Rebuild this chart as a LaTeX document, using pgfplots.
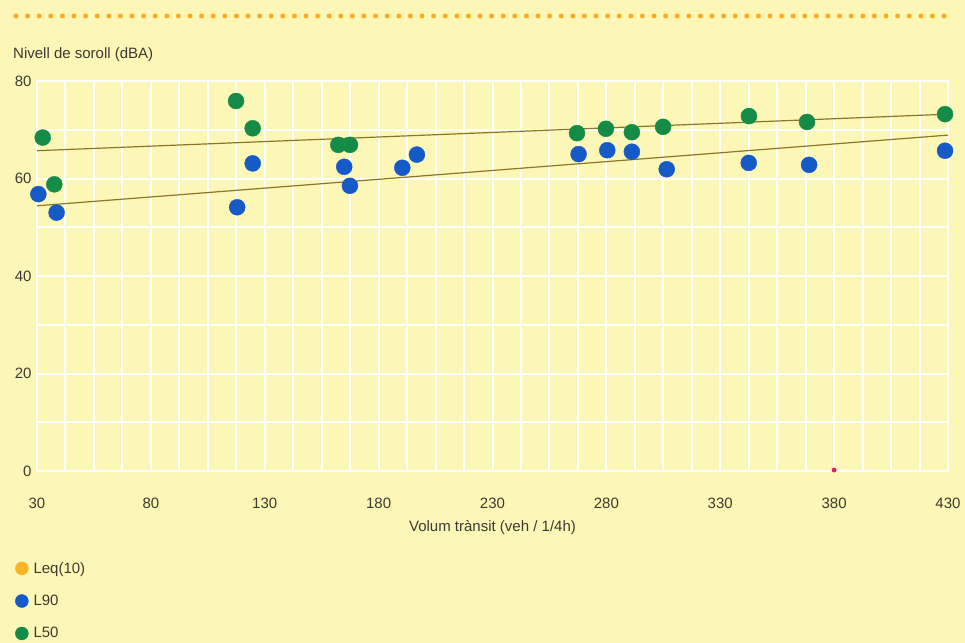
\documentclass[border=0pt]{standalone}
\usepackage{fontspec}
\setmainfont{Liberation Sans}
\usepackage{pgfplots}
\pgfplotsset{compat=1.18}
\definecolor{bg}{RGB}{252,247,182}
\definecolor{gr}{RGB}{20,140,72}
\definecolor{bl}{RGB}{22,90,200}
\definecolor{lq}{RGB}{248,180,40}
\definecolor{trend}{RGB}{140,118,40}
\definecolor{txt}{RGB}{60,58,50}
\definecolor{dotc}{RGB}{250,172,35}
\definecolor{pink}{RGB}{225,30,100}
\begin{document}
\begin{tikzpicture}
\fill[bg] (0bp,0bp) rectangle (965bp,643bp);
\draw[dotc, line width=5bp, line cap=round, dash pattern=on 0bp off 11.6bp] (16bp,627bp) -- (950bp,627bp);
\node[anchor=west, font=\fontsize{15bp}{18bp}\selectfont, text=txt, inner sep=0pt] at (13bp,588bp) {Nivell de soroll (dBA)};
\begin{axis}[
  at={(37bp,172bp)}, anchor=south west, scale only axis, width=911bp, height=390bp,
  xmin=30, xmax=430, ymin=0, ymax=80,
  xtick={30,80,...,430}, minor x tick num=3,
  ytick={0,20,...,80}, minor ytick={10,30,50,70},
  grid=both, grid style={white, line width=2bp}, minor grid style={white, line width=2bp},
  axis line style={white, line width=2bp},
  major tick length=0pt, minor tick length=0pt,
  tick label style={font=\fontsize{15bp}{18bp}\selectfont, text=txt},
  /pgf/number format/assume math mode=true,
  xticklabel style={anchor=center, yshift=-32bp},
  yticklabel style={anchor=east, xshift=-2bp},
  xlabel={Volum trànsit (veh / 1/4h)},
  xlabel style={font=\fontsize{15bp}{18bp}\selectfont, text=txt, at={(axis description cs:0.5,0)}, anchor=center, yshift=-57bp},
  clip=false,
  legend image code/.code={\fill[#1] (0bp,0bp) circle (6.5bp);},
  legend cell align=left,
  legend style={at={(axis description cs:-0.0242,-0.2282)}, anchor=north west, draw=none, fill=none,
    inner sep=0pt, row sep=16.5bp, column sep=3bp, font=\fontsize{15bp}{18bp}\selectfont, text=txt},
]
\addlegendimage{lq, only marks, mark=*}
\addlegendentry{Leq(10)}
\addplot[trend, line width=1.2bp, forget plot] coordinates {(30,65.7) (430,73.2)};
\addplot[trend, line width=1.2bp, forget plot] coordinates {(30,54.4) (430,68.9)};
\addplot[only marks, mark=*, mark size=8bp, color=bl] coordinates {
(30.6,56.8) (38.6,53.0) (117.9,54.1) (124.7,63.1) (164.9,62.4) (167.4,58.5)
(190.4,62.2) (196.8,64.9) (267.8,65.0) (280.4,65.8) (291.2,65.5) (306.5,61.9)
(342.5,63.2) (369.0,62.8) (428.7,65.7)};
\addlegendentry{L90}
\addplot[only marks, mark=*, mark size=8bp, color=gr] coordinates {
(32.5,68.4) (37.6,58.8) (117.4,75.9) (124.7,70.3) (162.3,66.9) (167.4,66.9)
(267.1,69.3) (279.8,70.2) (291.2,69.5) (304.9,70.6) (342.6,72.8) (368.1,71.6)
(428.7,73.2)};
\addlegendentry{L50}
\addplot[only marks, mark=*, mark size=2.2bp, color=pink, forget plot] coordinates {(380,0.2)};
\end{axis}
\end{tikzpicture}
\end{document}
